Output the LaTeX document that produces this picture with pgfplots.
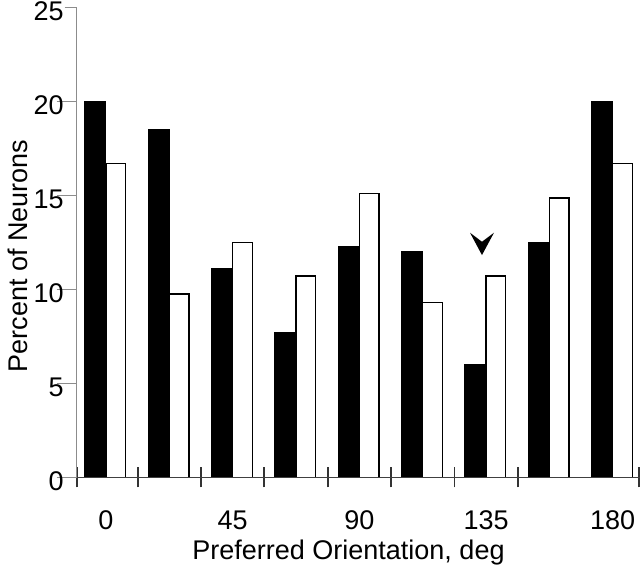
\documentclass[border=0pt]{standalone}
\usepackage{fontspec}
\setmainfont{Liberation Sans}
\usepackage{pgfplots}
\pgfplotsset{compat=1.18}
\newcommand{\bigf}{\fontsize{13.5}{16}\selectfont}
\begin{document}
\begin{tikzpicture}
\begin{axis}[
  scale only axis, width=281.65pt, height=235pt,
  xmin=-0.4626, xmax=8.431, ymin=0, ymax=25,
  axis x line*=bottom, axis y line*=left,
  x axis line style={-, draw=black!75, line width=0.75pt},
  y axis line style={-, draw=black!45, line width=0.5pt},
  /pgf/number format/assume math mode=true,
  tick label style={font=\bigf},
  label style={font=\bigf},
  major tick length=10pt,
  xtick align=center, ytick align=outside,
  ytick={0,5,10,15,20,25},
  ytick style={draw=black!45, line width=0.5pt, shorten <=4pt},
  yticklabel style={yshift=-1.8pt, xshift=7pt},
  xtick={-0.4626,0.5,1.5,2.5,3.5,4.5,5.5,6.5,8.41},
  xticklabels={},
  xtick style={draw=black!80, line width=0.85pt},
  extra x ticks={0,2,4,6,8},
  extra x tick labels={0,45,90,135,180},
  extra x tick style={xtick style={draw=none}, xticklabel style={anchor=base, yshift=-21pt}},
  ylabel={Percent of Neurons},
  ylabel style={at={(axis description cs:-0.1042,0.471)}, anchor=center},
  xlabel={Preferred Orientation, deg},
  xlabel style={at={(axis description cs:0.4825,0)}, anchor=base, yshift=-41pt},
  clip=false,
  axis on top,
]
\addplot[ybar, bar width=0.335, bar shift=-0.1675, fill=black, draw=black, line width=0pt]
  coordinates {(0,20) (1,18.5) (2,11.1) (3,7.7) (4,12.3) (5,12.0) (6,6.0) (7,12.5) (8,20)};
\addplot[ybar, bar width=0.31, bar shift=0.155, fill=white, draw=black, line width=0.75pt]
  coordinates {(0,16.7) (1,9.75) (2,12.5) (3,10.7) (4,15.1) (5,9.3) (6,10.7) (7,14.85) (8,16.7)};
\fill (axis cs:5.936,11.82) -- (axis cs:5.747,13.01) -- (axis cs:5.936,12.53) -- (axis cs:6.126,13.01) -- cycle;
\coordinate (O) at (axis cs:-0.4626,0);
\end{axis}
\pgfresetboundingbox
\path ([shift={(-38.35pt,-45.35pt)}]O) rectangle ([shift={(281.65pt,238.65pt)}]O);
\end{tikzpicture}
\end{document}
